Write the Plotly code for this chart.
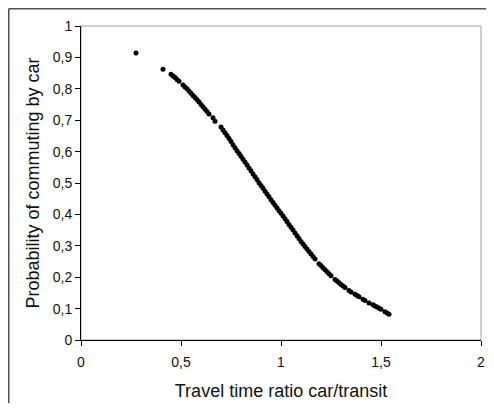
import plotly.graph_objects as go

# Data
ratio = [0.275, 0.41,
         0.45, 0.46, 0.47, 0.48, 0.49, 0.51, 0.52, 0.53, 0.54, 0.55, 0.56, 0.57, 0.58, 0.59,
         0.60, 0.61, 0.62, 0.63, 0.64, 0.66, 0.67,
         0.70, 0.71, 0.72, 0.73, 0.74, 0.75, 0.76, 0.77, 0.78, 0.79, 0.80, 0.81, 0.82, 0.83,
         0.84, 0.85, 0.86, 0.87, 0.88, 0.89, 0.90, 0.91, 0.92, 0.93, 0.94, 0.95, 0.96, 0.97,
         0.98, 0.99, 1.00,
         1.01, 1.02, 1.03, 1.04, 1.05, 1.06, 1.07, 1.08, 1.09, 1.10, 1.11, 1.12, 1.13, 1.14,
         1.15, 1.16, 1.17,
         1.19, 1.20, 1.21, 1.22, 1.23, 1.24, 1.25,
         1.27, 1.28, 1.29, 1.30, 1.31, 1.32, 1.34, 1.35, 1.37, 1.38, 1.39, 1.41, 1.42, 1.44,
         1.46, 1.47, 1.48, 1.49, 1.50, 1.52, 1.53, 1.54]
prob = [0.914, 0.862,
        0.846, 0.841, 0.836, 0.830, 0.824, 0.812, 0.806, 0.800, 0.793, 0.786, 0.779, 0.772, 0.765, 0.758,
        0.750, 0.743, 0.735, 0.728, 0.720, 0.708, 0.697,
        0.678, 0.669, 0.660, 0.651, 0.642, 0.632, 0.622, 0.612, 0.603, 0.594, 0.585, 0.576, 0.567, 0.557,
        0.548, 0.539, 0.529, 0.520, 0.511, 0.501, 0.492, 0.483, 0.474, 0.465, 0.456, 0.447, 0.438, 0.429,
        0.420, 0.412, 0.404,
        0.395, 0.386, 0.377, 0.368, 0.359, 0.350, 0.341, 0.332, 0.323, 0.314, 0.306, 0.298, 0.290, 0.282,
        0.274, 0.266, 0.258,
        0.243, 0.237, 0.230, 0.224, 0.217, 0.211, 0.205,
        0.193, 0.188, 0.182, 0.177, 0.172, 0.167, 0.158, 0.153, 0.146, 0.142, 0.138, 0.130, 0.126, 0.118,
        0.112, 0.108, 0.105, 0.101, 0.098, 0.090, 0.086, 0.082]

x_tickvals = [0, 0.5, 1, 1.5, 2]
x_ticktext = ["0", "0,5", "1", "1,5", "2"]
y_tickvals = [0, 0.1, 0.2, 0.3, 0.4, 0.5, 0.6, 0.7, 0.8, 0.9, 1]
y_ticktext = ["0", "0,1", "0,2", "0,3", "0,4", "0,5", "0,6", "0,7", "0,8", "0,9", "1"]

FONT = "Liberation Sans, Arial, sans-serif"

fig = go.Figure()
fig.add_trace(go.Scatter(
    x=ratio, y=prob, mode="markers",
    marker=dict(color="black", size=5, line=dict(width=0)),
    showlegend=False, hoverinfo="x+y"))

# The page body has an 8px margin, so the figure is sized/margined to compensate.
fig.update_layout(
    width=478, height=395,
    margin=dict(l=73, r=5, t=18, b=63, autoexpand=False),
    paper_bgcolor="white", plot_bgcolor="white",
    font=dict(family=FONT, color="#111111"),
    shapes=[
        # plot-area frame (light grey)
        dict(type="rect", xref="paper", yref="paper", x0=0, y0=0, x1=1, y1=1,
             line=dict(color="#a0a0a0", width=1), layer="below"),
        # outer chart frame (top and left edges visible)
        dict(type="line", xref="paper", yref="paper", x0=-0.1806, y0=1.0549, x1=1.1, y1=1.0549,
             line=dict(color="#505050", width=1.5)),
        dict(type="line", xref="paper", yref="paper", x0=-0.1806, y0=1.0549, x1=-0.1806, y1=-0.4,
             line=dict(color="#505050", width=1.5)),
    ],
)

fig.update_xaxes(
    range=[0, 2], tickvals=x_tickvals, ticktext=x_ticktext,
    showgrid=False, zeroline=False, automargin=False,
    showline=True, linecolor="black", linewidth=1,
    ticks="outside", ticklen=5, tickcolor="black", tickwidth=1,
    tickfont=dict(size=14, family=FONT), ticklabelstandoff=4,
    title=dict(text="Travel time ratio car/transit", font=dict(size=18, family=FONT), standoff=15),
)
fig.update_yaxes(
    range=[0, 1], tickvals=y_tickvals, ticktext=y_ticktext,
    showgrid=False, zeroline=False, automargin=False,
    showline=True, linecolor="black", linewidth=1,
    ticks="outside", ticklen=5, tickcolor="black", tickwidth=1,
    tickfont=dict(size=14, family=FONT),
    title=dict(text="Probability of commuting by car", font=dict(size=18, family=FONT), standoff=8),
)

fig.write_html("out.html")
